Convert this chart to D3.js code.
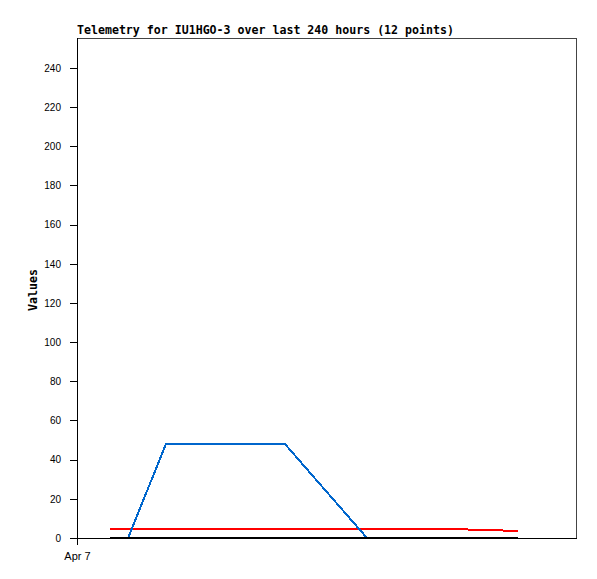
<!DOCTYPE html>
<html>
<head>
<meta charset="utf-8">
<script src="https://cdn.jsdelivr.net/npm/d3@7"></script>
<style>
  body { margin: 0; background: #fff; }
  .tick text { font-family: "Liberation Sans", sans-serif; font-size: 10px; fill: #000; }
</style>
</head>
<body>
<script>
// telemetry samples (UTC)
var times = ["2024-04-07T15:48Z", "2024-04-08T00:30Z", "2024-04-08T18:42Z", "2024-04-09T13:24Z",
  "2024-04-10T08:36Z", "2024-04-11T03:48Z", "2024-04-11T23:30Z", "2024-04-12T19:12Z",
  "2024-04-13T15:24Z", "2024-04-14T11:00Z", "2024-04-15T03:24Z", "2024-04-15T19:42Z"];
var blueVals = [0, 0, 48, 48, 48, 48, 24, 0, 0, 0, 0, 0];
var redVals = [4.6, 4.6, 4.6, 4.6, 4.6, 4.6, 4.6, 4.6, 4.6, 4.6, 4.1, 3.6];
var blackVals = [0, 0, 0, 0, 0, 0, 0, 0, 0, 0, 0, 0];
var yTicks = [0, 20, 40, 60, 80, 100, 120, 140, 160, 180, 200, 220, 240];
var range = ["2024-04-07T00:00Z", "2024-04-17T00:00Z"];

var margin = {top: 38, right: 20, bottom: 41, left: 77},
  width = 597 - margin.left - margin.right,
  height = 579 - margin.top - margin.bottom;

var svg = d3.select("body").append("svg")
  .attr("width", 597)
  .attr("height", 579)
  .append("g")
  .attr("transform", "translate(" + margin.left + "," + margin.top + ")");

var parse = d3.isoParse;
var x = d3.scaleTime().range([0, width]).domain(range.map(parse));
var y = d3.scaleLinear().range([height, 0]).domain([0, 255.3]);

// frame (top + right)
svg.append("path")
  .attr("d", "M0,0.5H" + (width - 0.5) + "V" + height)
  .attr("fill", "none")
  .attr("stroke", "#444")
  .attr("shape-rendering", "crispEdges");

// Y axis
var yAxis = svg.append("g")
  .call(d3.axisLeft(y).tickValues(yTicks).tickSize(7).tickPadding(9));
yAxis.select(".domain").remove();
yAxis.selectAll("line").attr("shape-rendering", "crispEdges");

// X axis
var xAxis = svg.append("g")
  .attr("transform", "translate(0," + height + ")")
  .call(d3.axisBottom(x).tickValues([parse(range[0])]).tickSize(7).tickPadding(7)
    .tickFormat(d3.utcFormat("%b %-d")));
xAxis.select(".domain").remove();
xAxis.selectAll("text").style("font-size", "11px");
xAxis.selectAll("line").attr("shape-rendering", "crispEdges");

svg.append("line")
  .attr("x1", 0).attr("x2", 0).attr("y1", 0).attr("y2", height)
  .attr("stroke", "#000").attr("shape-rendering", "crispEdges");
svg.append("line")
  .attr("x1", -7).attr("x2", width).attr("y1", height).attr("y2", height)
  .attr("stroke", "#000").attr("shape-rendering", "crispEdges");

var lineFun = function(vals) {
  return d3.line()
    .x(function(d, i) { return x(parse(times[i])); })
    .y(function(d) { return y(d); })(vals);
};

var series = [
  {vals: redVals, color: "#ff0000"},
  {vals: blueVals, color: "#0066cc"},
  {vals: blackVals, color: "#000000"}
];
series.forEach(function(s) {
  svg.append("path")
    .attr("d", lineFun(s.vals))
    .attr("fill", "none")
    .attr("stroke", s.color)
    .attr("stroke-width", 2)
    .attr("shape-rendering", "crispEdges");
});

// title
svg.append("text")
  .attr("x", 0)
  .attr("y", -4)
  .style("font-family", "DejaVu Sans Mono, monospace")
  .style("font-weight", "bold")
  .style("font-size", "11.6px")
  .text("Telemetry for IU1HGO-3 over last 240 hours (12 points)");

// y label
svg.append("text")
  .attr("transform", "translate(-40," + (height / 2 + 2) + ") rotate(-90)")
  .attr("text-anchor", "middle")
  .style("font-family", "DejaVu Sans Mono, monospace")
  .style("font-weight", "bold")
  .style("font-size", "11.6px")
  .text("Values");
</script>
</body>
</html>
